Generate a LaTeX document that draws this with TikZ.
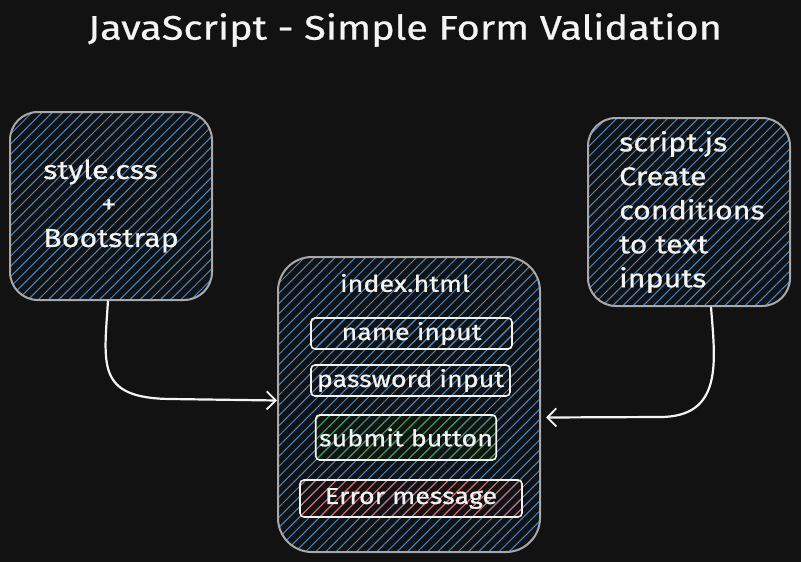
\documentclass[tikz,border=0pt]{standalone}
\usepackage{fontspec}
\setmainfont{Fira Sans}
\newfontfamily\hand[FakeStretch=1.17,FakeBold=0.6]{Fira Sans}
\usetikzlibrary{patterns.meta,arrows.meta}
\definecolor{bg}{HTML}{121212}
\definecolor{ink}{HTML}{F4F4F4}
\definecolor{boxline}{HTML}{A8A8A8}
\definecolor{hblue}{HTML}{4289CC}
\definecolor{hgreen}{HTML}{2F9E44}
\definecolor{hred}{HTML}{E86464}
\tikzset{
  hatch/.style={pattern={Lines[angle=45,distance=7.2pt,line width=1pt]},pattern color=#1},
  bigbox/.style={draw=boxline,line width=2pt,rounded corners=28pt,hatch=hblue,text=ink,
    font=\hand\fontsize{26}{34}\selectfont,align=left},
  field/.style={draw=ink,line width=1.6pt,rounded corners=4pt,text=ink,
    font=\hand\fontsize{23}{26}\selectfont},
  conn/.style={draw=ink,line width=2.2pt,-{Straight Barb[length=9pt,width=18pt,line width=1.8pt]}}
}
\begin{document}
\begin{tikzpicture}[x=1pt,y=-1pt]
\fill[bg] (0,0) rectangle (801,562);
\useasboundingbox (0,0) rectangle (801,562);

\node[text=ink,font=\hand\fontsize{34}{40}\selectfont] (title) at (405,30) {JavaScript - Simple Form Validation};

\node[bigbox,minimum width=202pt,minimum height=188pt] (lbox) at (111,206)
  {style.css\\\hspace*{58pt}+\\Bootstrap};
\node[bigbox,minimum width=202pt,minimum height=188pt,xshift=0pt] (rbox) at (689,212)
  {\hspace*{6pt}script.js\\\hspace*{6pt}Create\\\hspace*{6pt}conditions\\\hspace*{6pt}to text\\\hspace*{6pt}inputs};
\node[bigbox,rounded corners=34pt,minimum width=262pt,minimum height=295pt] (cbox) at (409,404.5) {};
\node[text=ink,font=\hand\fontsize{23}{26}\selectfont] (idx) at (405,283) {index.html};

\node[field,hatch=hblue,minimum width=201pt,minimum height=31pt] (name) at (411.5,333.5) {name input};
\node[field,minimum width=199pt,minimum height=31pt] (pass) at (410.5,380.5) {password input};
\node[field,hatch=hgreen,minimum width=172pt,minimum height=45pt] (submit) at (406,437.5) {submit button};
\node[field,hatch=hred,minimum width=222pt,minimum height=37pt] (err) at (411,498.5) {Error message};

\draw[conn] ([xshift=-3pt]lbox.south) .. controls (104,365) and (96,398) .. (170,399) -- ([yshift=4pt]cbox.west);
\draw[conn] ([xshift=22pt]rbox.south) .. controls (715,360) and (724,417) .. (660,417) -- ([xshift=5pt,yshift=-13pt]cbox.east);
\end{tikzpicture}
\end{document}
